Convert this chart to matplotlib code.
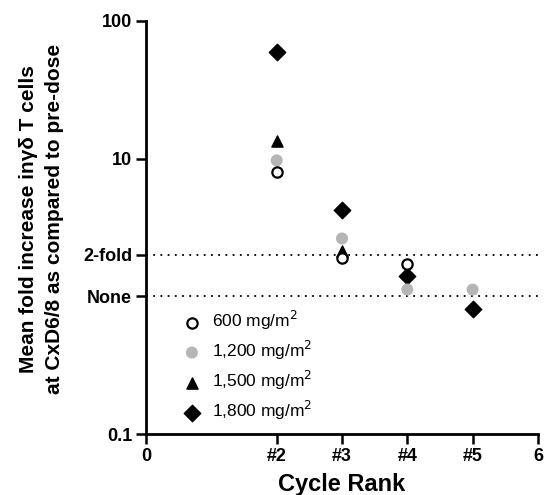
import numpy as np
import matplotlib.pyplot as plt

plt.rcParams['font.family'] = ['Liberation Sans', 'DejaVu Sans']

# ------------------------------------------------------------
# data
# ------------------------------------------------------------
x_ticks = [0, 2, 3, 4, 5, 6]
x_labels = ["0", "#2", "#3", "#4", "#5", "6"]

dose_labels = ["600 mg/m$^2$", "1,200 mg/m$^2$", "1,500 mg/m$^2$", "1,800 mg/m$^2$"]
x_600 = [2, 3, 4]
y_600 = [7.95, 1.91, 1.73]
x_1200 = [2, 3, 4, 5]
y_1200 = [9.7, 2.63, 1.12, 1.12]
x_1500 = [2, 3]
y_1500 = [13.4, 2.15]
x_1800 = [2, 3, 4, 5]
y_1800 = [59.3, 4.25, 1.40, 0.805]

y_ticks = [0.1, 1, 2, 10, 100]
y_labels = ["0.1", "None", "2-fold", "10", "100"]

fig = plt.figure(figsize=(5.45, 4.95), dpi=100)
ax = fig.add_axes([0.268, 0.123, 0.719, 0.835])
ax.set_yscale('log')
ax.set_xlim(0, 6)
ax.set_ylim(0.1, 100)

ax.axhline(2, color='black', ls=(0, (1, 3)), lw=1.3, zorder=1)
ax.axhline(1, color='black', ls=(0, (1, 3)), lw=1.3, zorder=1)

ax.scatter(x_1800, y_1800, marker='D', s=70, color='black', zorder=3, label=dose_labels[3])
ax.scatter(x_1500, y_1500, marker='^', s=65, color='black', zorder=3, label=dose_labels[2])
ax.scatter(x_1200, y_1200, marker='o', s=75, color='#b5b5b5', edgecolors='none', zorder=3, label=dose_labels[1])
ax.scatter(x_600, y_600, marker='o', s=55, facecolors='white', edgecolors='black', linewidths=1.6, zorder=4, label=dose_labels[0])

handles, labels = ax.get_legend_handles_labels()
order = [3, 2, 1, 0]
ax.legend([handles[i] for i in order], [labels[i] for i in order],
          loc='lower left', bbox_to_anchor=(0.055, 0.012), frameon=False,
          fontsize=12.5, handletextpad=0.15, labelspacing=0.4,
          borderaxespad=0, scatterpoints=1)

ax.set_xticks(x_ticks)
ax.set_xticklabels(x_labels, fontweight='bold', fontsize=13)
ax.set_yticks(y_ticks)
ax.set_yticklabels(y_labels, fontweight='bold', fontsize=13)
ax.yaxis.set_minor_locator(plt.NullLocator())

for s in ['top', 'right']:
    ax.spines[s].set_visible(False)
for s in ['left', 'bottom']:
    ax.spines[s].set_linewidth(2)
ax.tick_params(direction='out', length=7, width=1.8, pad=3)

ax.set_xlabel("Cycle Rank", fontweight='bold', fontsize=17, labelpad=6)
ax.set_ylabel("Mean fold increase in\u03b3\u03b4 T cells\nat CxD6/8 as compared to pre-dose",
              fontweight='bold', fontsize=15, linespacing=1.45)
ax.yaxis.set_label_coords(-0.21, 0.52)

fig.savefig("out.png", dpi=100)
